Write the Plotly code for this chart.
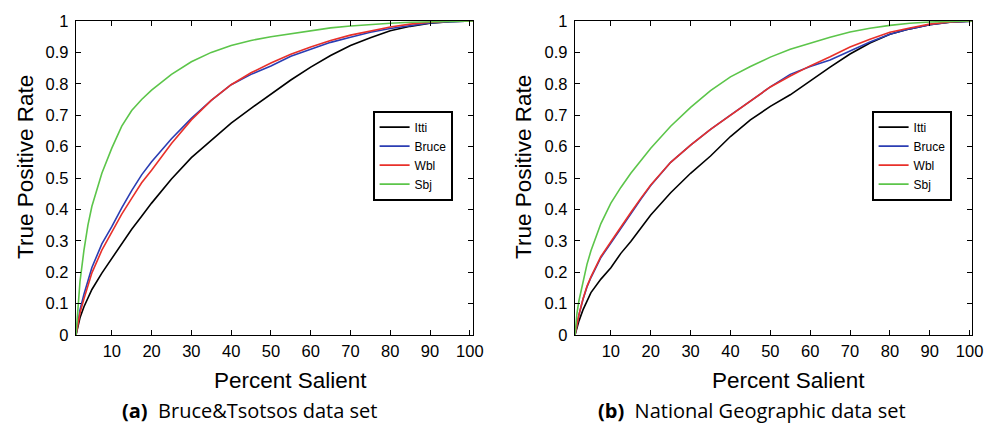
import plotly.graph_objects as go

# Shared sampling grid (Percent Salient)
pct = [1, 1.5, 2, 3, 4, 5, 7.5, 10, 12.5, 15, 17.5, 20, 25, 30, 35, 40, 45, 50,
       55, 60, 65, 70, 75, 80, 85, 90, 95, 101]

# (a) Bruce&Tsotsos data set
a_itti = [0, 0.03, 0.055, 0.09, 0.118, 0.145, 0.197, 0.244, 0.293, 0.337, 0.378, 0.42,
          0.497, 0.565, 0.62, 0.675, 0.722, 0.766, 0.812, 0.853, 0.89, 0.922, 0.947,
          0.969, 0.983, 0.993, 0.998, 1]
a_bruce = [0, 0.045, 0.08, 0.13, 0.175, 0.215, 0.29, 0.345, 0.405, 0.46, 0.51, 0.552,
           0.625, 0.69, 0.747, 0.797, 0.83, 0.857, 0.888, 0.91, 0.932, 0.948, 0.964,
           0.976, 0.986, 0.994, 0.998, 1]
a_wbl = [0, 0.04, 0.07, 0.115, 0.16, 0.198, 0.27, 0.329, 0.385, 0.435, 0.485, 0.525,
         0.61, 0.685, 0.747, 0.797, 0.835, 0.866, 0.894, 0.917, 0.938, 0.955, 0.968,
         0.981, 0.99, 0.996, 0.999, 1]
a_sbj = [0, 0.10, 0.17, 0.27, 0.35, 0.41, 0.515, 0.595, 0.665, 0.715, 0.75, 0.78,
         0.83, 0.87, 0.90, 0.922, 0.938, 0.95, 0.96, 0.97, 0.978, 0.984, 0.989,
         0.993, 0.996, 0.998, 0.999, 1]

# (b) National Geographic data set
b_itti = [0, 0.025, 0.045, 0.08, 0.11, 0.135, 0.178, 0.214, 0.26, 0.298, 0.34, 0.382,
          0.453, 0.515, 0.57, 0.632, 0.685, 0.728, 0.765, 0.81, 0.853, 0.895, 0.93,
          0.958, 0.975, 0.988, 0.996, 1]
b_bruce = [0, 0.035, 0.065, 0.113, 0.153, 0.183, 0.247, 0.293, 0.34, 0.385, 0.432, 0.476,
           0.55, 0.605, 0.655, 0.70, 0.745, 0.79, 0.83, 0.855, 0.876, 0.905, 0.933,
           0.958, 0.975, 0.988, 0.996, 1]
b_wbl = [0, 0.035, 0.065, 0.115, 0.155, 0.185, 0.25, 0.297, 0.345, 0.39, 0.435, 0.478,
         0.55, 0.605, 0.655, 0.70, 0.745, 0.79, 0.825, 0.857, 0.886, 0.917, 0.942,
         0.964, 0.978, 0.99, 0.997, 1]
b_sbj = [0, 0.07, 0.11, 0.17, 0.225, 0.268, 0.355, 0.42, 0.47, 0.515, 0.556, 0.595,
         0.665, 0.725, 0.778, 0.822, 0.855, 0.885, 0.91, 0.93, 0.948, 0.965, 0.977,
         0.986, 0.993, 0.997, 0.999, 1]

series_names = ["Itti", "Bruce", "Wbl", "Sbj"]
colors = ["#000000", "#2b3db3", "#e8302a", "#5cc54a"]
x_ticks = [10, 20, 30, 40, 50, 60, 70, 80, 90, 100]
y_ticks = [0, 0.1, 0.2, 0.3, 0.4, 0.5, 0.6, 0.7, 0.8, 0.9, 1]
y_ticktext = ["0", "0.1", "0.2", "0.3", "0.4", "0.5", "0.6", "0.7", "0.8", "0.9", "1"]
captions = ["<b>(a)</b>  Bruce&Tsotsos data set", "<b>(b)</b>  National Geographic data set"]

W, H = 987, 423
fig = go.Figure()

panels = [
    dict(data=[a_itti, a_bruce, a_wbl, a_sbj], xa="x", ya="y", legend="legend"),
    dict(data=[b_itti, b_bruce, b_wbl, b_sbj], xa="x2", ya="y2", legend="legend2"),
]
for p in panels:
    for name, col, ys in zip(series_names, colors, p["data"]):
        fig.add_trace(go.Scatter(x=pct, y=ys, mode="lines", name=name,
                                 line=dict(color=col, width=1.6),
                                 xaxis=p["xa"], yaxis=p["ya"], legend=p["legend"]))

HELV = "Liberation Sans, Arial, sans-serif"
tickfont = dict(family=HELV, size=16.5, color="black")
def xax(domain, rng):
    return dict(domain=domain, range=rng, tickvals=x_ticks, ticks="inside", ticklen=5,
                tickcolor="black", showline=True, linecolor="black", linewidth=1.3,
                mirror="ticks", showgrid=False, zeroline=False, tickfont=tickfont,
                automargin=False, ticklabelstandoff=1)
def yax(domain, anchor):
    return dict(domain=domain, range=[0, 1], tickvals=y_ticks, ticktext=y_ticktext,
                ticks="inside", ticklen=5, tickcolor="black", showline=True,
                linecolor="black", linewidth=1.3, mirror="ticks", showgrid=False,
                zeroline=False, tickfont=tickfont, anchor=anchor, automargin=False,
                ticklabelstandoff=3)

ydom = [(H - 335) / H, (H - 21) / H]
legend_style = dict(bordercolor="black", borderwidth=1.6, bgcolor="white",
                    font=dict(family=HELV, size=12, color="black"),
                    xanchor="left", yanchor="top", tracegroupgap=0)

fig.update_layout(
    template="none",
    width=W, height=H, margin=dict(l=0, r=0, t=0, b=0, autoexpand=False),
    paper_bgcolor="white", plot_bgcolor="white",
    xaxis=xax([76 / W, 473 / W], [1, 100.8]),
    yaxis=yax(ydom, "x"),
    xaxis2=xax([575 / W, 972 / W], [1, 100.6]),
    yaxis2=yax(ydom, "x2"),
    legend=dict(x=373 / W, y=(H - 111) / H, **legend_style),
    legend2=dict(x=872 / W, y=(H - 111) / H, **legend_style),
    showlegend=True,
)

title_font = dict(family=HELV, size=22.5, color="black")
cap_font = dict(family="Open Sans, sans-serif", size=20, color="black")
for xc_t, xc_y in [(290, 25), (788, 523)]:
    fig.add_annotation(text="Percent Salient", x=xc_t / W, y=(H - 380) / H, xref="paper",
                       yref="paper", showarrow=False, font=title_font,
                       xanchor="center", yanchor="middle")
    fig.add_annotation(text="True Positive Rate", x=xc_y / W, y=(H - 167) / H, xref="paper",
                       yref="paper", showarrow=False, font=title_font, textangle=-90,
                       xanchor="center", yanchor="middle")
for cx, cap in zip([249, 752], captions):
    fig.add_annotation(text=cap, x=cx / W, y=(H - 410) / H, xref="paper", yref="paper",
                       showarrow=False, font=cap_font, xanchor="center", yanchor="middle")

fig.write_html("out.html")
